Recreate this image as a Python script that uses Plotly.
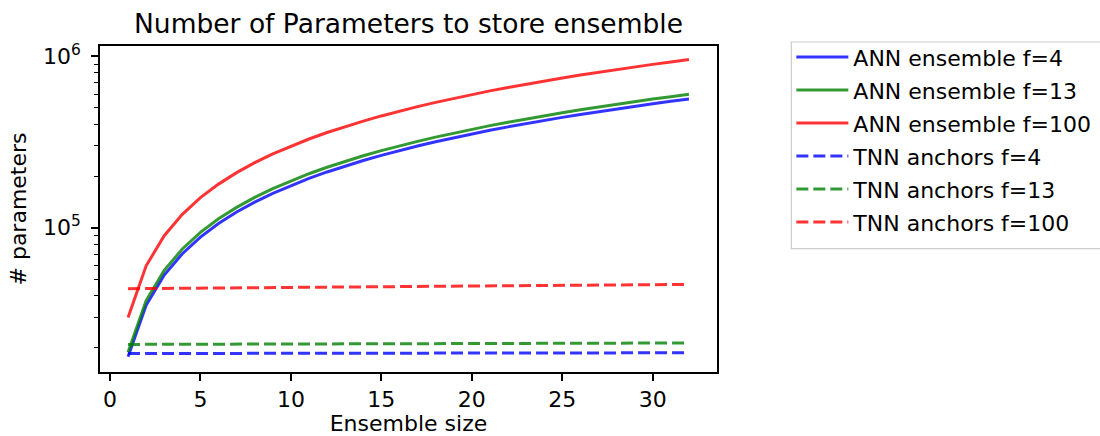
import plotly.graph_objects as go

ensemble_size = list(range(1, 33))

ann_f4 = [17600, 35200, 52800, 70400, 88000, 105600, 123200, 140800, 158400, 176000,
          193600, 211200, 228800, 246400, 264000, 281600, 299200, 316800, 334400, 352000,
          369600, 387200, 404800, 422400, 440000, 457600, 475200, 492800, 510400, 528000,
          545600, 563200]
ann_f13 = [18750, 37500, 56250, 75000, 93750, 112500, 131250, 150000, 168750, 187500,
           206250, 225000, 243750, 262500, 281250, 300000, 318750, 337500, 356250, 375000,
           393750, 412500, 431250, 450000, 468750, 487500, 506250, 525000, 543750, 562500,
           581250, 600000]
ann_f100 = [29900, 59800, 89700, 119600, 149500, 179400, 209300, 239200, 269100, 299000,
            328900, 358800, 388700, 418600, 448500, 478400, 508300, 538200, 568100, 598000,
            627900, 657800, 687700, 717600, 747500, 777400, 807300, 837200, 867100, 897000,
            926900, 956800]
tnn_f4 = [18400, 18406, 18412, 18418, 18424, 18430, 18436, 18442, 18448, 18454,
          18460, 18466, 18472, 18478, 18484, 18490, 18496, 18502, 18508, 18514,
          18520, 18526, 18532, 18538, 18544, 18550, 18556, 18562, 18568, 18574,
          18580, 18586]
tnn_f13 = [20800, 20813, 20826, 20839, 20852, 20865, 20878, 20891, 20904, 20917,
           20930, 20943, 20956, 20969, 20982, 20995, 21008, 21021, 21034, 21047,
           21060, 21073, 21086, 21099, 21112, 21125, 21138, 21151, 21164, 21177,
           21190, 21203]
tnn_f100 = [44000, 44084, 44168, 44252, 44336, 44420, 44504, 44588, 44672, 44756,
            44840, 44924, 45008, 45092, 45176, 45260, 45344, 45428, 45512, 45596,
            45680, 45764, 45848, 45932, 46016, 46100, 46184, 46268, 46352, 46436,
            46520, 46604]

series = [
    ("ANN ensemble f=4", ann_f4, "rgba(0,0,255,0.8)", "solid"),
    ("ANN ensemble f=13", ann_f13, "rgba(0,128,0,0.8)", "solid"),
    ("ANN ensemble f=100", ann_f100, "rgba(255,0,0,0.8)", "solid"),
    ("TNN anchors f=4", tnn_f4, "rgba(0,0,255,0.8)", "12px,5px"),
    ("TNN anchors f=13", tnn_f13, "rgba(0,128,0,0.8)", "12px,5px"),
    ("TNN anchors f=100", tnn_f100, "rgba(255,0,0,0.8)", "12px,5px"),
]

x_ticks = [0, 5, 10, 15, 20, 25, 30]
y_major = [1e5, 1e6]
y_major_text = ["10<sup>5</sup>", "10<sup>6</sup>"]
y_minor = [m * 10 ** e for e in (4, 5) for m in range(2, 10)]

FONT = "DejaVu Sans"
FS = 22

fig = go.Figure()
for i, (name, vals, color, dash) in enumerate(series):
    fig.add_trace(go.Scatter(
        x=ensemble_size, y=vals, mode="lines", name=name,
        legendgroup=f"g{i}",
        line=dict(color=color, width=3, dash=dash),
    ))

# legend frame (matplotlib-style box)
fig.add_shape(type="rect", xref="paper", yref="paper",
              x0=1.1205, x1=1.632, y0=0.3785, y1=1.0123,
              line=dict(color="#cccccc", width=1.2), fillcolor="white", layer="below")

fig.update_layout(
    width=1100, height=436,
    margin=dict(l=100, r=383, t=46, b=64, autoexpand=False),
    paper_bgcolor="white", plot_bgcolor="white",
    font=dict(family=FONT, size=FS, color="black"),
    title=dict(text="Number of Parameters to store ensemble", x=0.5, xref="paper",
               xanchor="center", yref="paper", y=1, yanchor="bottom",
               pad=dict(b=13), font=dict(size=26.5, family=FONT, color="black")),
    showlegend=True,
    legend=dict(x=1.1205, y=1.030, xanchor="left", yanchor="top",
                borderwidth=0, bgcolor="rgba(0,0,0,0)",
                font=dict(size=FS, family=FONT, color="black"),
                itemwidth=52, tracegroupgap=1.4),
)

fig.update_xaxes(
    range=[-0.55, 33.55], tickmode="array", tickvals=x_ticks,
    ticks="outside", ticklen=7, tickwidth=1.5, tickcolor="black",
    showline=True, linecolor="black", linewidth=1.8, mirror=True,
    showgrid=False, zeroline=False, automargin=False,
    title=dict(text="Ensemble size", font=dict(size=FS, family=FONT), standoff=8),
    tickfont=dict(size=FS, family=FONT),
)
fig.update_yaxes(
    type="log", range=[4.157, 6.060], tickmode="array", tickvals=y_major,
    ticktext=y_major_text,
    ticks="outside", ticklen=7, tickwidth=1.5, tickcolor="black",
    minor=dict(tickmode="array", tickvals=y_minor, ticks="outside", ticklen=4,
               tickwidth=1.2, tickcolor="black", showgrid=False),
    showline=True, linecolor="black", linewidth=1.8, mirror=True,
    showgrid=False, zeroline=False, automargin=False,
    title=dict(text="# parameters", font=dict(size=FS, family=FONT), standoff=10),
    tickfont=dict(size=FS, family=FONT),
    ticklabelstandoff=6,
)

fig.write_html(
    "out.html",
    config={"displayModeBar": False},
    post_script="document.body.style.margin='0';document.body.style.overflow='hidden';",
)
